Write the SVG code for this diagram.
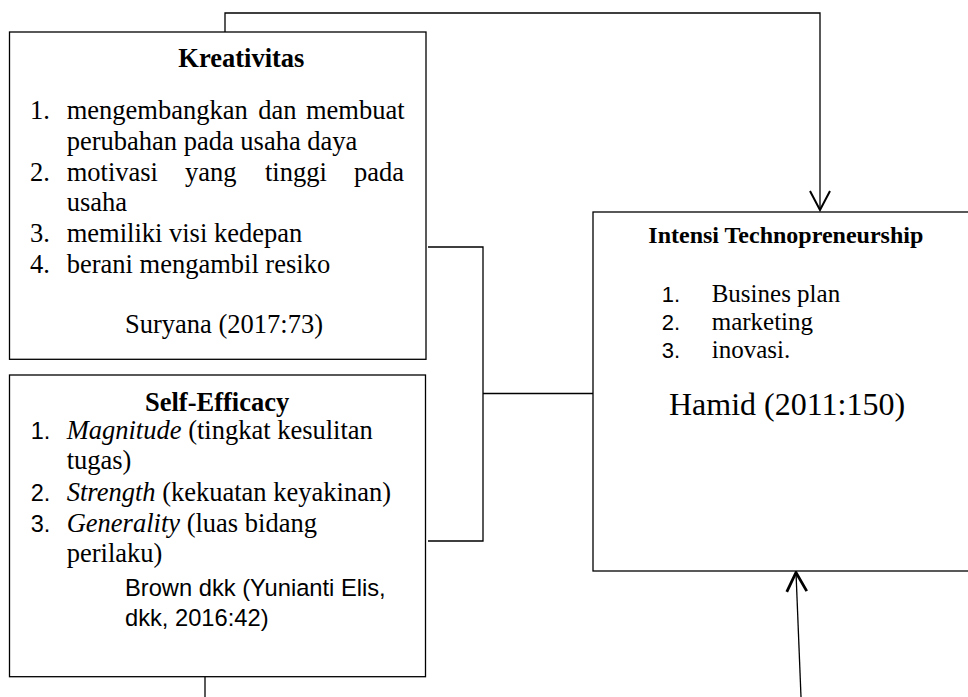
<svg xmlns="http://www.w3.org/2000/svg" width="968" height="697" viewBox="0 0 968 697">
<defs>
<style>
.box{fill:#fff;stroke:#000;stroke-width:1.3}
.ln{fill:none;stroke:#000;stroke-width:1.3}
.s{font-family:"Liberation Serif","Times New Roman",serif;font-size:26.5px;fill:#000}
.b{font-weight:bold}
.i{font-style:italic}
.n{font-family:"Liberation Sans",Arial,sans-serif;font-size:23.5px;fill:#000}
.li{font-size:25px}
</style>
<marker id="ah" markerUnits="userSpaceOnUse" viewBox="0 0 22 22" refX="20" refY="11" markerWidth="22" markerHeight="22" orient="auto">
<path d="M1,1 L20,11 L1,21" fill="none" stroke="#000" stroke-width="2"/>
</marker>
<marker id="ah2" markerUnits="userSpaceOnUse" viewBox="0 0 24 24" refX="21" refY="12" markerWidth="24" markerHeight="24" orient="auto">
<path d="M2,2 L21,12 L2,22" fill="none" stroke="#000" stroke-width="2.8"/>
</marker>
</defs>
<rect width="968" height="697" fill="#fff"/>

<g id="connectors">
<polyline class="ln" points="225,32 225,13 820,13 820,210" marker-end="url(#ah)"/>
<polyline class="ln" points="428,247 483,247 483,541 428,541"/>
<line class="ln" x1="483" y1="393.5" x2="593" y2="393.5"/>
<line class="ln" x1="205" y1="677" x2="205" y2="697"/>
<line class="ln" x1="801" y1="697" x2="796" y2="572.5" stroke-width="1.6" marker-end="url(#ah2)"/>
</g>

<g id="kreativitas">
<rect class="box" x="9.5" y="32" width="416.5" height="327.3"/>
<text class="s b" x="178.3" y="66.7">Kreativitas</text>
<text class="s" x="30" y="119.3">1.</text>
<text class="s" y="119.3"><tspan x="66.7">mengembangkan</tspan><tspan x="258.3">dan</tspan><tspan x="306">membuat</tspan></text>
<text class="s" x="66.7" y="150">perubahan pada usaha daya</text>
<text class="s" x="30" y="180.7">2.</text>
<text class="s" y="180.7"><tspan x="66.7">motivasi</tspan><tspan x="185">yang</tspan><tspan x="265">tinggi</tspan><tspan x="354">pada</tspan></text>
<text class="s" x="66.7" y="211.4">usaha</text>
<text class="s" x="30" y="242.1">3.</text>
<text class="s" x="66.7" y="242.1">memiliki visi kedepan</text>
<text class="s" x="30" y="272.8">4.</text>
<text class="s" x="66.7" y="272.8">berani mengambil resiko</text>
<text class="s" x="125" y="333">Suryana (2017:73)</text>
</g>

<g id="self-efficacy">
<rect class="box" x="9.5" y="375" width="416" height="301.7"/>
<text class="s b" x="145" y="410.7">Self-Efficacy</text>
<text class="n" x="30.7" y="439">1.</text>
<text class="s" x="66.7" y="439"><tspan class="i">Magnitude</tspan> (tingkat kesulitan</text>
<text class="s" x="66.7" y="469">tugas)</text>
<text class="n" x="30.7" y="500.5">2.</text>
<text class="s" x="66.7" y="500.5"><tspan class="i">Strength</tspan> (kekuatan keyakinan)</text>
<text class="n" x="30.7" y="531.5">3.</text>
<text class="s" x="66.7" y="531.5"><tspan class="i">Generality</tspan> (luas bidang</text>
<text class="s" x="66.7" y="561.5">perilaku)</text>
<text class="n" x="125" y="595.5" style="font-size:23.7px">Brown dkk (Yunianti Elis,</text>
<text class="n" x="125" y="626" style="font-size:23.7px">dkk, 2016:42)</text>
</g>

<g id="intensi">
<rect class="box" x="593" y="212" width="400" height="359"/>
<text class="s b" x="648.3" y="243.3" style="font-size:24px">Intensi Technopreneurship</text>
<text class="n" x="661.7" y="302" style="font-size:22px">1.</text>
<text class="s li" x="711.7" y="302">Busines plan</text>
<text class="n" x="661.7" y="330" style="font-size:22px">2.</text>
<text class="s li" x="711.7" y="330">marketing</text>
<text class="n" x="661.7" y="358" style="font-size:22px">3.</text>
<text class="s li" x="711.7" y="358">inovasi.</text>
<text class="s" x="669" y="415" style="font-size:32px">Hamid (2011:150)</text>
</g>
</svg>
